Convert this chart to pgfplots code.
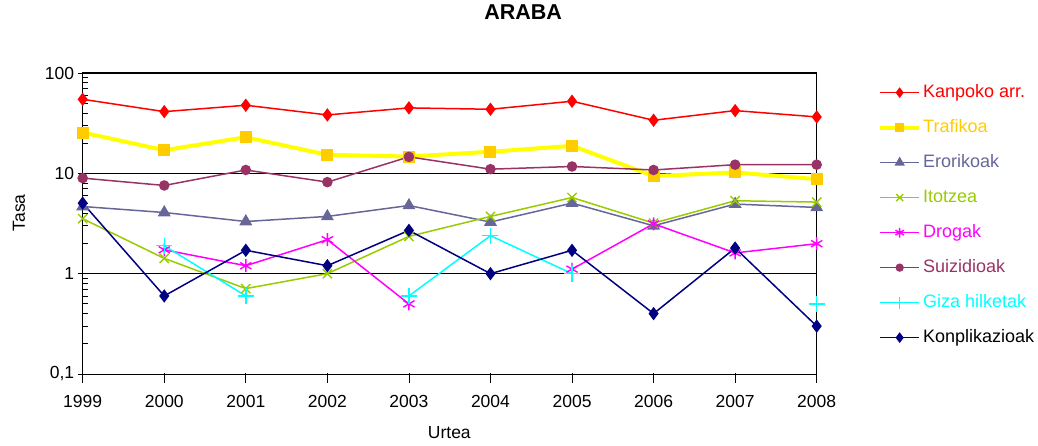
\documentclass[border=0pt]{standalone}
\usepackage{pgfplots}
\usepackage{pgfplotstable}
\pgfplotsset{compat=1.18}
\usepackage{fontspec}
\setmainfont{Liberation Sans}
\definecolor{cRed}{HTML}{FF0000}
\definecolor{cGold}{HTML}{FFCC00}
\definecolor{cYel}{HTML}{FFFF00}
\definecolor{cEro}{HTML}{666699}
\definecolor{cIto}{HTML}{99CC00}
\definecolor{cDro}{HTML}{FF00FF}
\definecolor{cSui}{HTML}{993366}
\definecolor{cGiz}{HTML}{00FFFF}
\definecolor{cKon}{HTML}{000080}

\pgfplotstableread{
year kanpoko trafikoa erori itotzea drogak suizid giza konpl
1999 54.7 25.5 4.67 3.53 nan 8.96 nan 5.05
2000 41.2 17.0 4.07 1.42 1.73 7.57 1.90 0.60
2001 47.7 22.9 3.31 0.71 1.20 10.8 0.60 1.71
2002 38.2 15.3 3.72 1.00 2.18 8.17 nan 1.20
2003 44.9 14.7 4.78 2.35 0.50 14.6 0.60 2.70
2004 43.5 16.4 3.27 3.72 nan 11.0 2.39 1.00
2005 52.3 18.8 5.05 5.74 1.11 11.7 1.00 1.71
2006 33.8 9.4 3.00 3.19 3.14 10.8 nan 0.40
2007 42.2 10.2 4.94 5.33 1.61 12.2 nan 1.80
2008 36.5 8.75 4.57 5.17 1.99 12.2 0.50 0.30
}\datatable

\newcommand{\fs}{\fontsize{17.5bp}{20bp}\selectfont}
\newcommand{\fl}{\fontsize{18bp}{21bp}\selectfont}

\begin{document}
\begin{tikzpicture}
\begin{axis}[
  at={(82.7bp,72bp)}, anchor=south west,
  scale only axis, width=734bp, height=301bp,
  ymode=log, ymin=0.1, ymax=100,
  xmin=1999, xmax=2008,
  xtick={1999,2000,2001,2002,2003,2004,2005,2006,2007,2008},
  xticklabels={1999,2000,2001,2002,2003,2004,2005,2006,2007,2008},
  ytick={0.1,1,10,100},
  yticklabels={{0,1},1,10,100},
  tick label style={font=\fs},
  xticklabel style={yshift=-13bp},
  tick pos=left,
  tick align=center,
  major tick length=10bp,
  minor tick length=5bp,
  major x tick style={yshift=-4bp, black, line width=0.8bp},
  major y tick style={black, line width=0.8bp},
  minor y tick style={xshift=2.5bp, black, line width=0.8bp},
  ymajorgrids,
  major grid style={black, line width=0.8bp},
  axis line style={black, line width=1bp},
  unbounded coords=jump,
  title={ARABA},
  title style={font=\bfseries\fontsize{21.5bp}{25bp}\selectfont, at={(0.600,1.183)}, anchor=center},
  xlabel={Urtea},
  xlabel style={font=\fs, at={(0.4995,-0.196)}, anchor=center},
  ylabel={Tasa},
  ylabel style={font=\fs, at={(-0.087,0.535)}, anchor=center},
  legend style={at={(1.0835,0.967)}, anchor=north west, draw=none, fill=none,
    font=\fl, row sep=16bp, inner sep=0pt,
    nodes={inner sep=2bp, text height=12bp, text depth=3bp}},
  legend cell align=left,
  legend image code/.code={\draw[mark repeat=2,mark phase=2,#1, every mark/.append style={scale=0.75}] plot coordinates {(0bp,0bp)(19.5bp,0bp)(39bp,0bp)};},
  every axis plot/.append style={line width=1.5bp},
]
\addplot[color=cRed, mark=diamond*, mark size=5.5bp, mark options={fill=cRed, draw=cRed, solid}] table[x=year,y=kanpoko]{\datatable};
\addlegendentry{\textcolor{cRed}{Kanpoko arr.}}
\addplot[color=cYel, line width=4bp, mark=square*, mark size=5.5bp, mark options={fill=cGold, draw=cGold, line width=1bp}] table[x=year,y=trafikoa]{\datatable};
\addlegendentry{\textcolor{cGold}{Trafikoa}}
\addplot[color=cEro, mark=triangle*, mark size=6bp, mark options={fill=cEro, draw=cEro}] table[x=year,y=erori]{\datatable};
\addlegendentry{\textcolor{cEro}{Erorikoak}}
\addplot[color=cIto, mark=x, mark size=6.5bp, mark options={draw=cIto, line width=1.4bp}] table[x=year,y=itotzea]{\datatable};
\addlegendentry{\textcolor{cIto}{Itotzea}}
\addplot[color=cDro, mark=asterisk, mark size=6.5bp, mark options={draw=cDro, line width=1.4bp}] table[x=year,y=drogak]{\datatable};
\addlegendentry{\textcolor{cDro}{Drogak}}
\addplot[color=cSui, mark=*, mark size=4.5bp, mark options={fill=cSui, draw=cSui}] table[x=year,y=suizid]{\datatable};
\addlegendentry{\textcolor{cSui}{Suizidioak}}
\addplot[color=cGiz, mark=+, mark size=8bp, mark options={draw=cGiz, line width=1.5bp}] table[x=year,y=giza]{\datatable};
\addlegendentry{\textcolor{cGiz}{Giza hilketak}}
\addplot[color=cKon, mark=diamond*, mark size=5.5bp, mark options={fill=cKon, draw=cKon}] table[x=year,y=konpl]{\datatable};
\addlegendentry{\textcolor{black}{Konplikazioak}}
\end{axis}
\pgfresetboundingbox
\path (0,0) rectangle (1038bp,446bp);
\end{tikzpicture}
\end{document}
